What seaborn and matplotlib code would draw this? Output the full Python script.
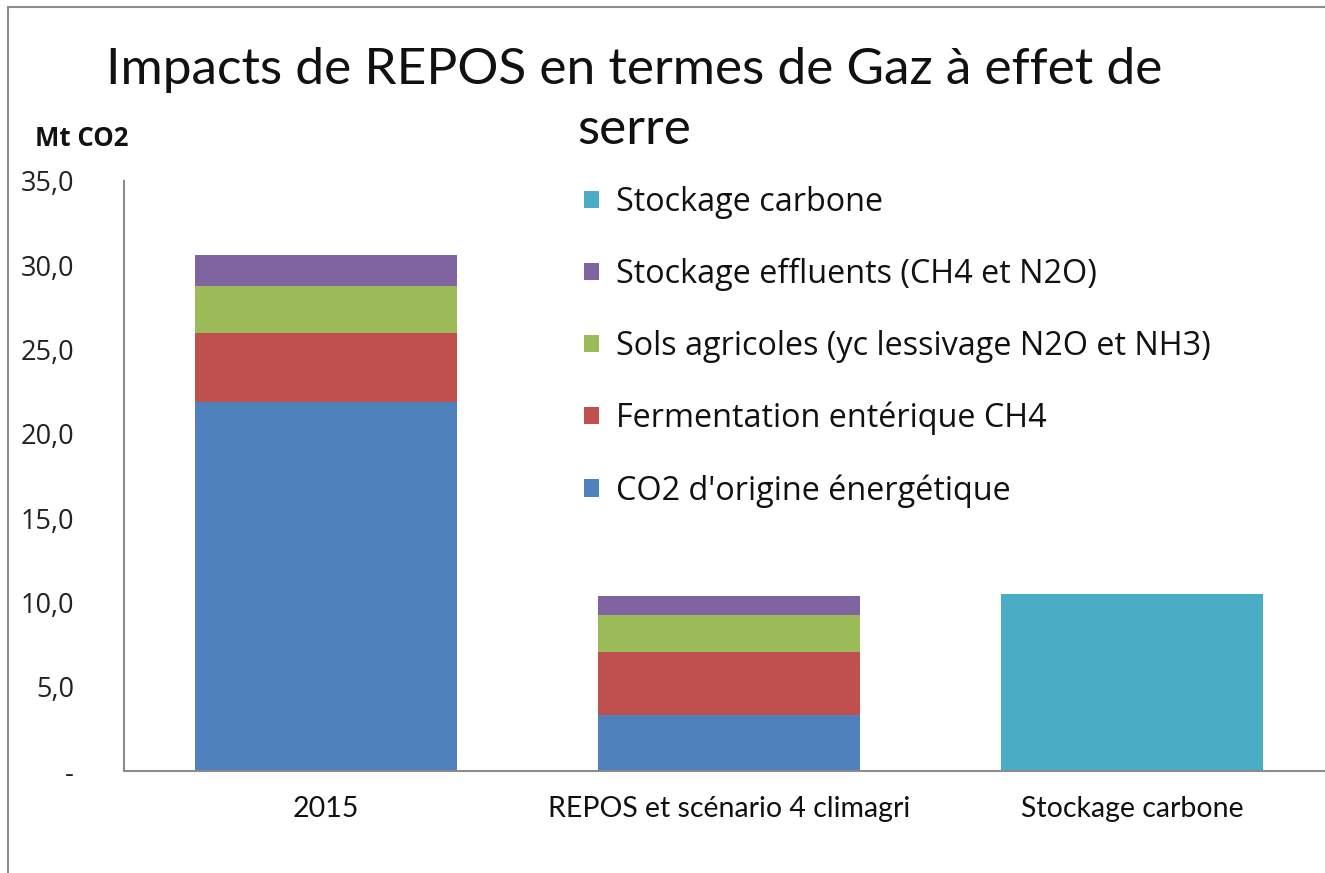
import matplotlib
matplotlib.use("Agg")
import matplotlib.pyplot as plt
import seaborn as sns
from matplotlib.patches import Patch
from matplotlib.lines import Line2D
from matplotlib.ticker import FuncFormatter

"""
Impacts de REPOS - gaz a effet de serre, barres empilees.
"""

categories = ["2015", "REPOS et scénario 4 climagri", "Stockage carbone"]
co2_energie = [21.9, 3.3, 0.0]
fermentation = [4.1, 3.75, 0.0]
sols = [2.8, 2.2, 0.0]
effluents = [1.8, 1.15, 0.0]
stockage = [0.0, 0.0, 10.5]

series_names = [
    "CO2 d'origine énergétique",
    "Fermentation entérique CH4",
    "Sols agricoles (yc lessivage N2O et NH3)",
    "Stockage effluents (CH4 et N2O)",
    "Stockage carbone",
]
series_colors = ["#4F81BD", "#C0504D", "#9BBB59", "#8064A2", "#4BACC6"]

sns.set_style("white")
plt.rcParams["font.family"] = ["Open Sans", "DejaVu Sans"]
narrow = ["Lato", "DejaVu Sans"]

fig = plt.figure(figsize=(13.25, 8.73), dpi=100)
ax = fig.add_axes([124 / 1325, 102 / 873, 1210 / 1325, 590 / 873])

# stacked bars: draw cumulative totals, tallest first
layers = [co2_energie, fermentation, sols, effluents]
cum = []
running = [0.0, 0.0, 0.0]
for layer in layers:
    running = [a + b for a, b in zip(running, layer)]
    cum.append(list(running))

for vals, col in reversed(list(zip(cum, series_colors[:4]))):
    sns.barplot(x=categories, y=vals, color=col, saturation=1, width=0.65,
                ax=ax, linewidth=0)
sns.barplot(x=categories, y=stockage, color=series_colors[4], saturation=1,
            width=0.65, ax=ax, linewidth=0)

ax.set_xlim(-0.5, 2.5)
ax.set_ylim(0, 35)
ax.set_yticks(range(0, 36, 5))
ax.yaxis.set_major_formatter(FuncFormatter(
    lambda v, p: "-" if v == 0 else f"{v:.1f}".replace(".", ",")))
ax.tick_params(axis="y", length=0, pad=36, labelsize=19.5, labelcolor="#222222")
ax.tick_params(axis="x", length=0, pad=18, labelsize=20.5, labelcolor="#111111")
for lab in ax.get_xticklabels():
    lab.set_fontfamily(narrow)
ax.set_xlabel("")
ax.set_ylabel("")

for side in ["top", "right"]:
    ax.spines[side].set_visible(False)
for side in ["left", "bottom"]:
    ax.spines[side].set_color("#8c8c8c")
    ax.spines[side].set_linewidth(1.5)

handles = [Patch(facecolor=c, edgecolor="none") for c in series_colors]
fig.legend(handles[::-1], series_names[::-1], loc="upper left",
           bbox_to_anchor=(584 / 1325, 1 - 186 / 873), frameon=False,
           fontsize=23.3, handlelength=0.45, handleheight=0.45,
           handletextpad=0.55, labelspacing=1.2, borderpad=0,
           borderaxespad=0, labelcolor="#111111")

fig.text(634 / 1325, 1 - 70 / 873, "Impacts de REPOS en termes de Gaz à effet de",
         ha="center", va="center", fontsize=37, family=narrow, color="#111111")
fig.text(634 / 1325, 1 - 130 / 873, "serre",
         ha="center", va="center", fontsize=37, family=narrow, color="#111111")
fig.text(82 / 1325, 1 - 138 / 873, "Mt CO2", ha="center", va="center",
         fontsize=18.5, fontweight="bold", color="#111111")

# chart border (screenshot frame)
fig.add_artist(Line2D([8 / 1325, 8 / 1325], [0, 1 - 7 / 873],
                      transform=fig.transFigure, color="#8c8c8c", lw=1.5))
fig.add_artist(Line2D([8 / 1325, 1], [1 - 7 / 873, 1 - 7 / 873],
                      transform=fig.transFigure, color="#8c8c8c", lw=1.5))

fig.savefig("out.png", dpi=100)
